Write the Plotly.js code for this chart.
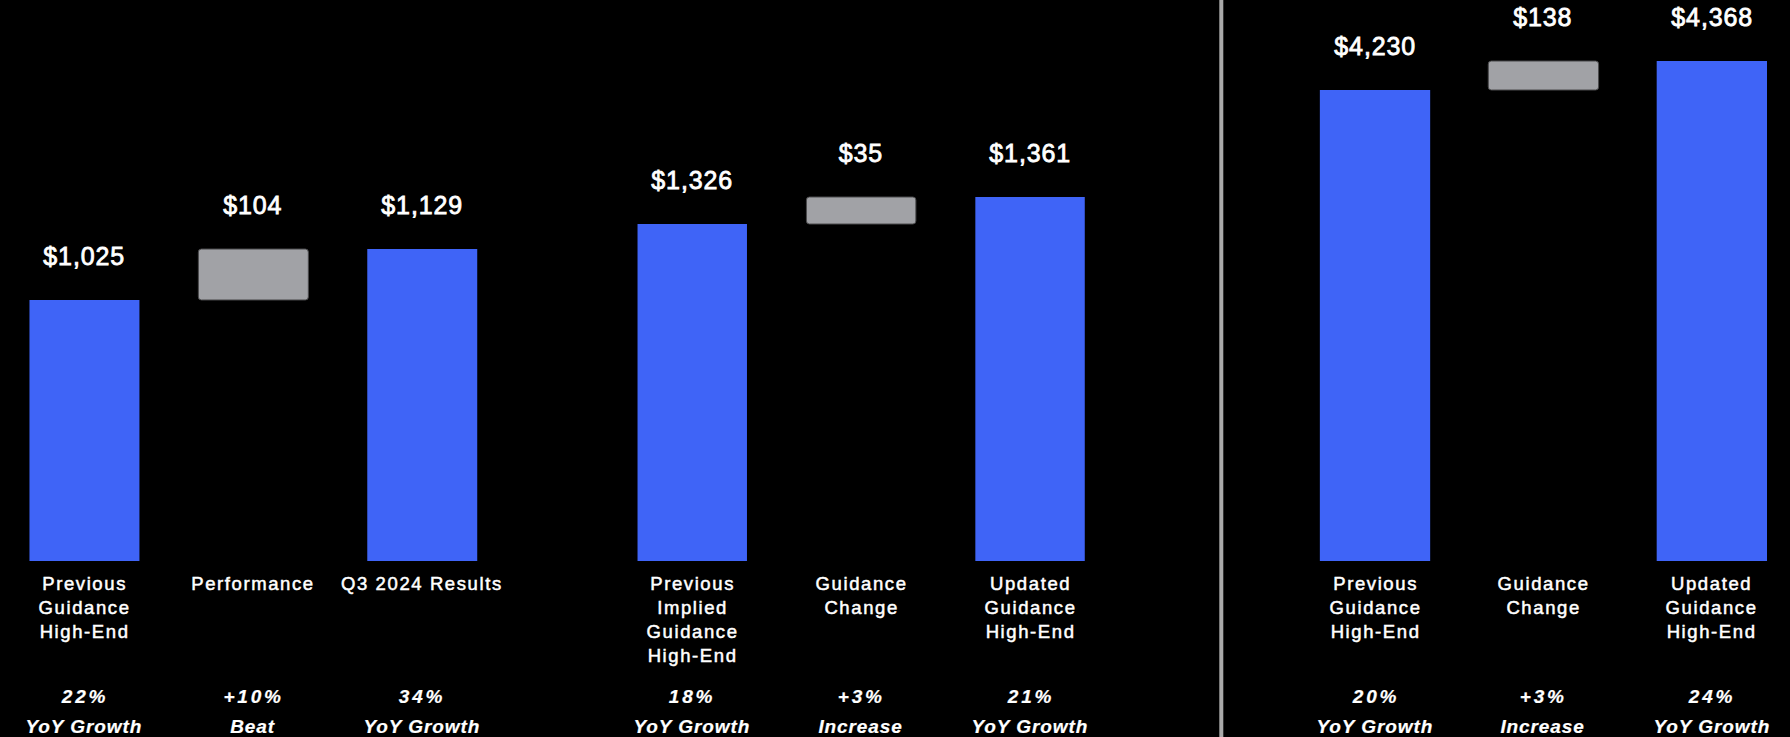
<!DOCTYPE html>
<html>
<head>
<meta charset="utf-8">
<script src="https://cdn.plot.ly/plotly-3.0.1.min.js"></script>
<style>
  html, body { margin: 0; padding: 0; background: #000; }
  #chart { width: 1790px; height: 737px; }
</style>
</head>
<body>
<div id="chart"></div>
<script>
// ---- Data ----
const cats1 = ['Previous<br>Guidance<br>High-End', 'Performance', 'Q3 2024 Results'];
const vals1 = [1025, 104, 1129];
const pct1  = ['22%', '+10%', '34%'];
const desc1 = ['YoY Growth', 'Beat', 'YoY Growth'];

const cats2 = ['Previous<br>Implied<br>Guidance<br>High-End', 'Guidance<br>Change', 'Updated<br>Guidance<br>High-End'];
const vals2 = [1326, 35, 1361];
const pct2  = ['18%', '+3%', '21%'];
const desc2 = ['YoY Growth', 'Increase', 'YoY Growth'];

const cats3 = ['Previous<br>Guidance<br>High-End', 'Guidance<br>Change', 'Updated<br>Guidance<br>High-End'];
const vals3 = [4230, 138, 4368];
const pct3  = ['20%', '+3%', '24%'];
const desc3 = ['YoY Growth', 'Increase', 'YoY Growth'];

// ---- Styling ----
const BLUE = '#3F64F7';
const GREY = '#A1A2A6';
const FONT = 'Liberation Sans, Arial, Helvetica, sans-serif';
const W = 1790, H = 737;
const plotBottomPx = 561;
const yDomBottom = 1 - plotBottomPx / H;

const panels = [
  {cats: cats1, vals: vals1, pct: pct1, desc: desc1, dom: [0, 506.7 / W], xr: [-0.5, 2.5], yr: [492.3, 1637.2], bw: 0.651},
  {cats: cats2, vals: vals2, pct: pct2, desc: desc2, dom: [607.8 / W, 1114.5 / W], xr: [-0.5, 2.5], yr: [889.1, 1616.4], bw: 0.648},
  {cats: cats3, vals: vals3, pct: pct3, desc: desc3, dom: [1290.8 / W, 1], xr: [-0.5, 2.464], yr: [1988.4, 4658.4], bw: 0.655}
];

const fmt = v => '$' + v.toLocaleString('en-US');

const traces = [];
const annotations = [];
const layout = {
  width: W, height: H,
  paper_bgcolor: '#000', plot_bgcolor: '#000',
  margin: {l: 0, r: 0, t: 0, b: 0},
  showlegend: false,
  barmode: 'overlay',
  font: {family: FONT, color: '#fff'},
  annotations: annotations,
  shapes: [{
    type: 'line', xref: 'paper', yref: 'paper',
    x0: 1221.3 / W, x1: 1221.3 / W, y0: 0, y1: 1,
    line: {color: '#AAAAAA', width: 4}
  }]
};

panels.forEach((p, i) => {
  const n = i === 0 ? '' : String(i + 1);
  const xa = 'x' + n, ya = 'y' + n;
  const start = p.vals[0], delta = p.vals[1], end = p.vals[2];

  traces.push({
    type: 'bar', xaxis: xa, yaxis: ya,
    x: [p.cats[0], p.cats[2]], y: [start, end],
    width: p.bw,
    marker: {color: BLUE, line: {width: 0}},
    hoverinfo: 'skip'
  });
  traces.push({
    type: 'bar', xaxis: xa, yaxis: ya,
    x: [p.cats[1]], y: [delta], base: [start],
    width: p.bw,
    marker: {color: GREY, cornerradius: 3, line: {color: '#4A4A4C', width: 1}},
    hoverinfo: 'skip'
  });

  layout['xaxis' + n] = {
    domain: p.dom, anchor: ya, type: 'category',
    categoryorder: 'array', categoryarray: p.cats,
    range: p.xr, visible: false, fixedrange: true
  };
  layout['yaxis' + n] = {
    domain: [yDomBottom, 1], anchor: xa,
    range: p.yr, visible: false, fixedrange: true
  };

  const tops = [start, start + delta, end];
  const labels = [fmt(start), fmt(delta), fmt(end)];
  for (let k = 0; k < 3; k++) {
    // value labels above bars
    annotations.push({
      xref: xa, yref: ya, x: p.cats[k], y: tops[k],
      text: labels[k], showarrow: false, yanchor: 'bottom', yshift: 28,
      font: {family: FONT, size: 25, color: '#fff'},
      name: 'value'
    });
    // category labels
    annotations.push({
      xref: xa, yref: 'paper', x: p.cats[k], y: yDomBottom,
      text: p.cats[k], showarrow: false, yanchor: 'top', yshift: -10,
      align: 'center',
      font: {family: FONT, size: 18.5, color: '#fff'},
      name: 'cat'
    });
    // growth lines
    annotations.push({
      xref: xa, yref: 'paper', x: p.cats[k], y: (H - 709) / H,
      text: p.pct[k], showarrow: false, yanchor: 'bottom',
      font: {family: FONT, size: 19, color: '#fff', weight: 'bold', style: 'italic'},
      name: 'pct'
    });
    annotations.push({
      xref: xa, yref: 'paper', x: p.cats[k], y: (H - 738.5) / H,
      text: p.desc[k], showarrow: false, yanchor: 'bottom',
      font: {family: FONT, size: 19, color: '#fff', weight: 'bold', style: 'italic'},
      name: 'desc'
    });
  }
});

const spacing = {value: ['0.9px', '0.8px'], cat: ['1.6px', '0.5px'], pct: ['2.8px', '0.2px'], desc: ['0.9px', '0.2px']};

Plotly.newPlot('chart', traces, layout, {staticPlot: true, displayModeBar: false}).then(gd => {
  const texts = gd.querySelectorAll('g.annotation text.annotation-text');
  texts.forEach((t, idx) => {
    const ann = gd.layout.annotations[idx];
    const s = spacing[ann && ann.name] || ['1px', '0px'];
    t.style.letterSpacing = s[0];
    t.style.stroke = '#fff';
    t.style.strokeWidth = s[1];
  });
});
</script>
</body>
</html>
